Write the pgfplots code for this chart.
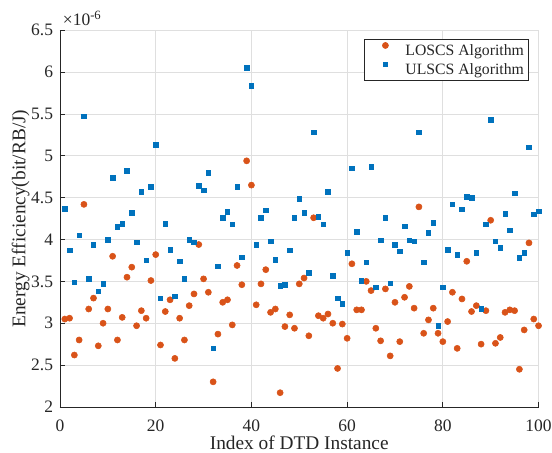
\documentclass[border=0pt]{standalone}
\usepackage{fontspec}
\setmainfont{Liberation Serif}
\usepackage{pgfplots}
\pgfplotsset{compat=1.18}
\definecolor{morange}{HTML}{D95319}
\definecolor{mblue}{HTML}{0072BD}
\definecolor{axcol}{HTML}{262626}
\definecolor{gridcol}{HTML}{DFDFDF}
\begin{document}
\begin{tikzpicture}
\begin{axis}[
 scale only axis, width=358.9pt, height=282.5pt,
 xmin=0, xmax=100, ymin=2, ymax=6.5,
 xtick={0,20,40,60,80,100},
 ytick={2,2.5,3,3.5,4,4.5,5,5.5,6,6.5},
 axis x line*=bottom, axis y line*=left,
 axis line style={axcol, line width=0.6pt},
 tick style={axcol, line width=0.6pt},
 tick align=inside, major tick length=3.75pt,
 grid=major, major grid style={gridcol, line width=0.6pt},
 /pgf/number format/assume math mode=true,
 ticklabel style={font=\fontsize{13.1}{15}\selectfont, text=axcol},
 xticklabel style={inner sep=0pt, yshift=-9.7pt, anchor=north},
 yticklabel style={inner sep=0pt, xshift=-5pt, anchor=east},
 xlabel={Index of DTD Instance},
 ylabel={Energy Efficiency(bit/RB/J)},
 label style={font=\fontsize{14.5}{16}\selectfont, text=axcol, inner sep=0pt},
 xlabel style={at={(axis description cs:0.5,-0.0755)}, anchor=north},
 ylabel style={at={(axis description cs:-0.0633,0.5)}, anchor=south},
 legend cell align=left,
 legend style={
  at={(rel axis cs:1,1)}, anchor=north east, xshift=-7.1pt, yshift=-6.5pt,
  draw=axcol, line width=0.6pt, fill=white,
  inner xsep=3.6pt, inner ysep=1.5pt,
  font=\fontsize{11.8}{13}\selectfont, text=axcol,
  nodes={inner sep=0pt, text height=10.9pt, text depth=3.1pt},
  row sep=0pt,
  /tikz/every even column/.style={column sep=0pt},
 },
 legend image code/.code={\path[draw=none,fill=none] (0pt,0pt) rectangle (26.9pt,0pt); \path[#1,draw=none,line width=0.4pt] plot[mark options={draw}] coordinates {(11.9pt,3.9pt)};},
]
\addplot[morange, only marks, mark=*, mark size=2.3pt] coordinates {
(1,3.05) (2,3.06) (3,2.62) (4,2.80) (5,4.42) (6,3.17) (7,3.30) (8,2.73) (9,3.00) (10,3.17)
(11,3.80) (12,2.80) (13,3.07) (14,3.55) (15,3.67) (16,2.97) (17,3.15) (18,3.06) (19,3.51) (20,3.82)
(21,2.74) (22,3.14) (23,3.28) (24,2.58) (25,3.06) (26,2.80) (27,3.21) (28,3.35) (29,3.94) (30,3.53)
(31,3.37) (32,2.30) (33,2.87) (34,3.25) (35,3.28) (36,2.98) (37,3.69) (38,3.46) (39,4.94) (40,4.65)
(41,3.22) (42,3.47) (43,3.64) (44,3.13) (45,3.17) (46,2.17) (47,2.96) (48,3.10) (49,2.94) (50,3.47)
(51,3.54) (52,2.85) (53,4.26) (54,3.09) (55,3.06) (56,3.11) (57,3.00) (58,2.46) (59,2.99) (60,2.82)
(61,3.71) (62,3.16) (63,3.16) (64,3.50) (65,3.39) (66,2.94) (67,2.79) (68,3.41) (69,2.61) (70,3.25)
(71,2.78) (72,3.31) (73,3.44) (74,3.18) (75,4.39) (76,2.88) (77,3.04) (78,3.18) (79,2.88) (80,2.78)
(81,3.02) (82,3.37) (83,2.70) (84,3.29) (85,3.74) (86,3.14) (87,3.21) (88,2.75) (89,3.15) (90,4.23)
(91,2.76) (92,2.83) (93,3.13) (94,3.16) (95,3.15) (96,2.45) (97,2.92) (98,3.96) (99,3.05) (100,2.97)
};
\addlegendentry{LOSCS Algorithm}
\addplot[mblue, only marks, mark=square*, mark size=1.7pt] coordinates {
(1,4.37) (2,3.87) (3,3.49) (4,4.05) (5,5.47) (6,3.53) (7,3.94) (8,3.38) (9,3.47) (10,4.00)
(11,4.74) (12,4.15) (13,4.19) (14,4.82) (15,4.32) (16,3.97) (17,4.57) (18,3.75) (19,4.63) (20,5.13)
(21,3.30) (22,4.19) (23,3.88) (24,3.32) (25,3.74) (26,3.53) (27,4.00) (28,3.97) (29,4.64) (30,4.59)
(31,4.80) (32,2.70) (33,3.68) (34,4.26) (35,4.33) (36,4.18) (37,4.63) (38,3.79) (39,6.05) (40,5.84)
(41,3.94) (42,4.26) (43,4.35) (44,3.98) (45,3.76) (46,3.45) (47,3.46) (48,3.87) (49,4.26) (50,4.49)
(51,4.32) (52,3.60) (53,5.28) (54,4.27) (55,4.18) (56,4.57) (57,3.57) (58,3.30) (59,3.23) (60,3.84)
(61,4.85) (62,4.09) (63,3.51) (64,3.73) (65,4.87) (66,3.43) (67,3.99) (68,4.26) (69,3.48) (70,3.94)
(71,3.86) (72,4.16) (73,3.99) (74,3.98) (75,5.28) (76,3.73) (77,4.08) (78,4.20) (79,2.97) (80,3.43)
(81,3.88) (82,4.42) (83,3.82) (84,4.36) (85,4.51) (86,4.50) (87,3.84) (88,3.17) (89,4.18) (90,5.43)
(91,3.98) (92,3.90) (93,4.31) (94,4.11) (95,4.55) (96,3.78) (97,3.84) (98,5.10) (99,4.30) (100,4.34)
};
\addlegendentry{ULSCS Algorithm}
\end{axis}
\node[anchor=base west, inner sep=0pt, font=\fontsize{13.1}{15}\selectfont, text=axcol, xshift=2pt, yshift=3.2pt] at (current axis.north west) {×10\raisebox{4.5pt}{\fontsize{9.5}{10}\selectfont -6}};
\pgfresetboundingbox
\path ([shift={(-45pt,-34.5pt)}]current axis.south west) rectangle ([shift={(10.1pt,22.7pt)}]current axis.north east);
\end{tikzpicture}
\end{document}
